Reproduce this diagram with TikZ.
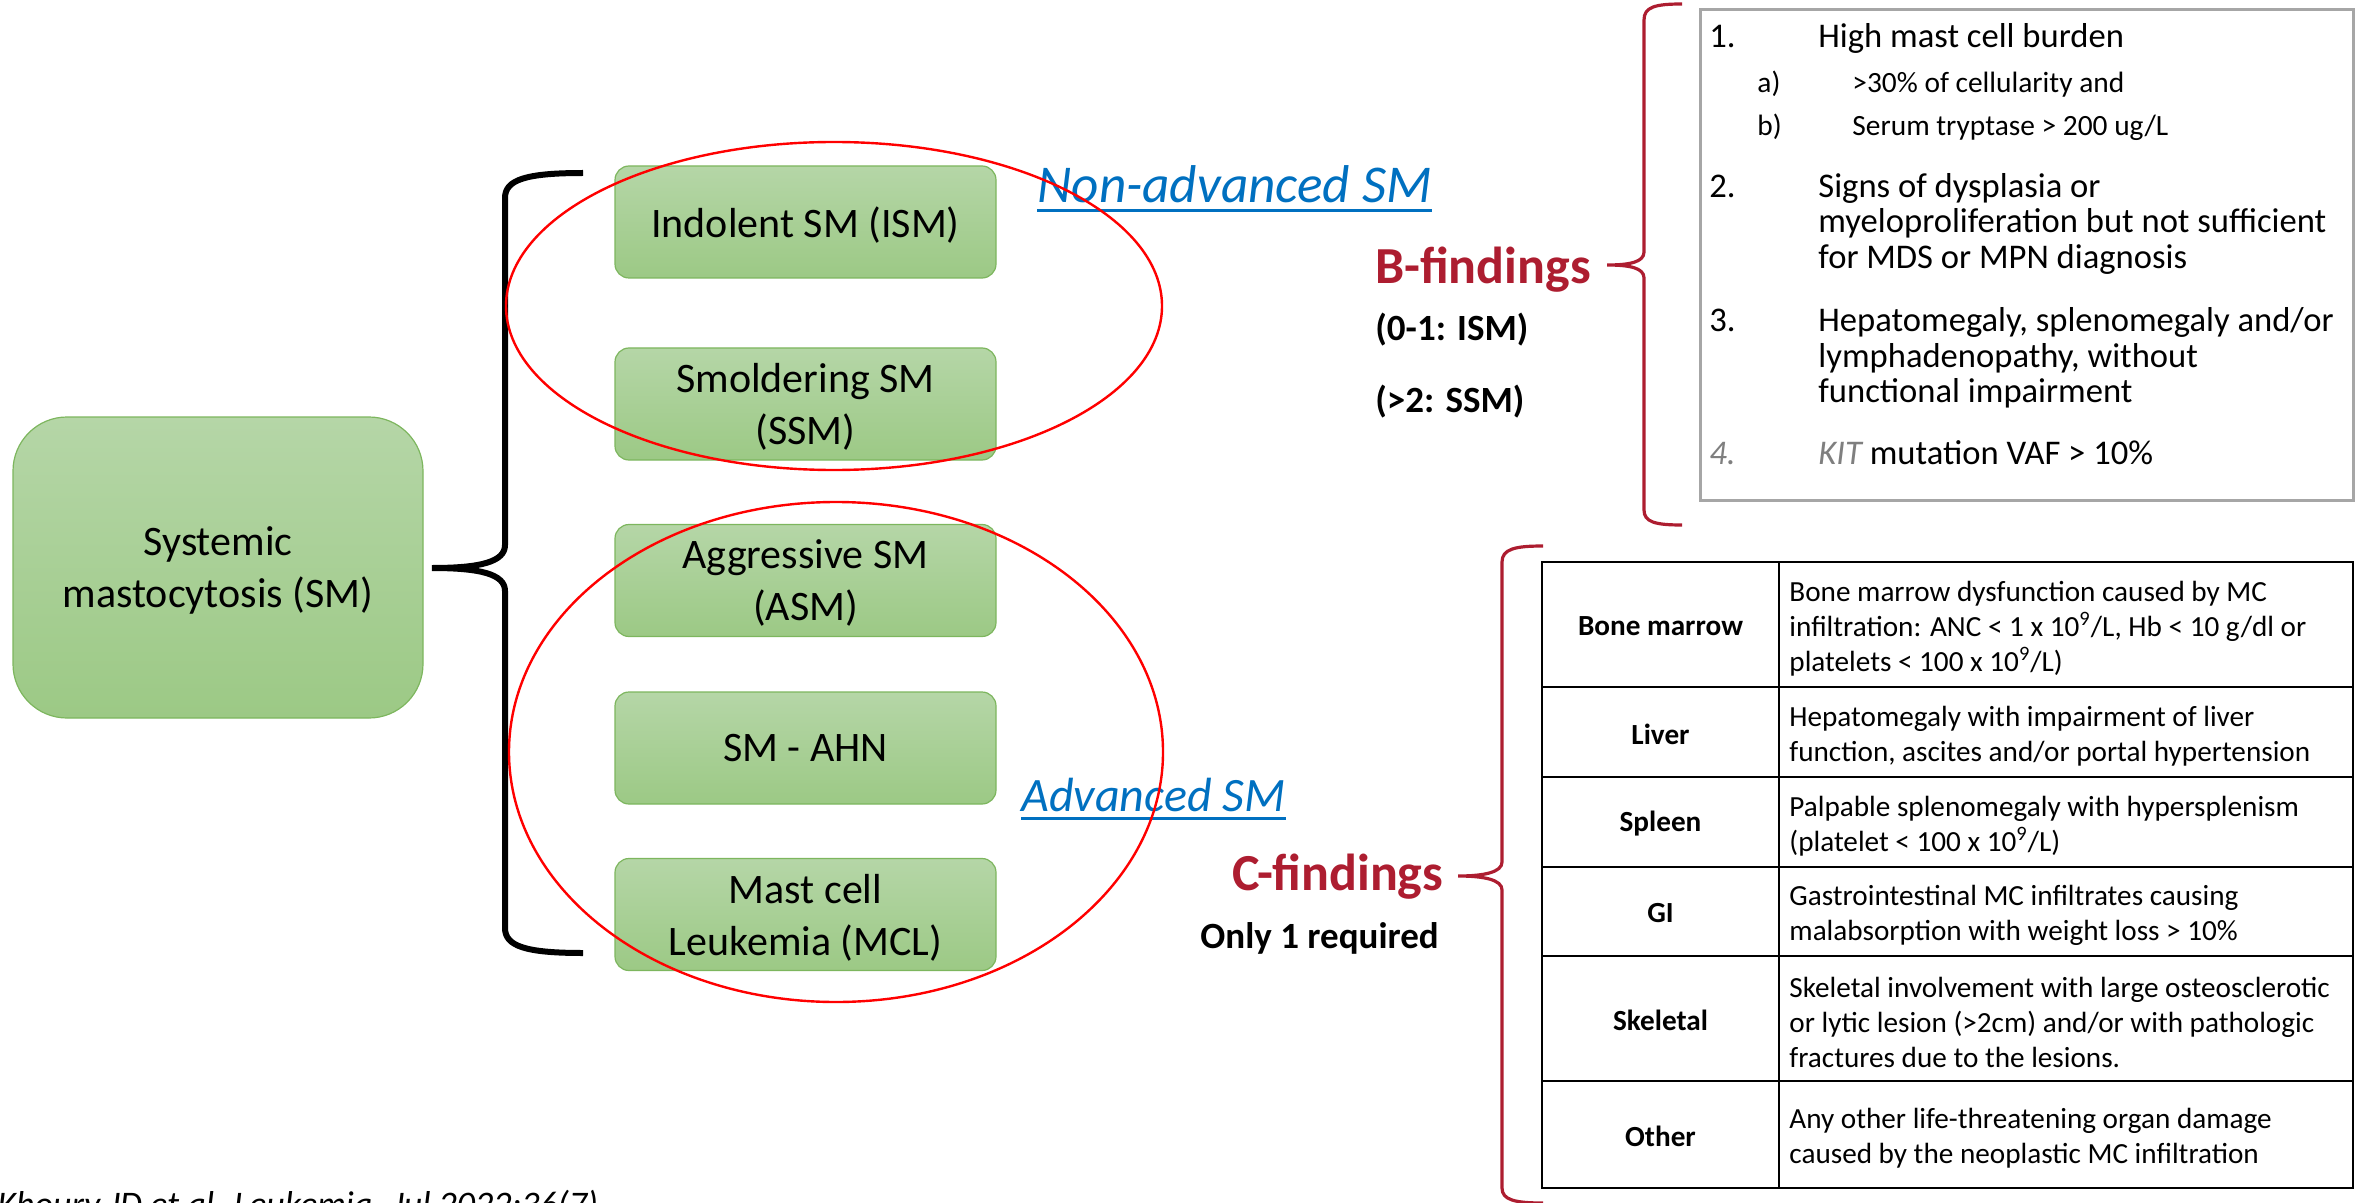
\documentclass[tikz,border=0pt]{standalone}
\usepackage{fontspec}
\setmainfont{Carlito}
\usetikzlibrary{calc}
\definecolor{boxtop}{HTML}{B5D6A7}
\definecolor{boxbot}{HTML}{9CC985}
\definecolor{boxline}{HTML}{7DB65E}
\definecolor{ovalred}{HTML}{FF0000}
\definecolor{linkblue}{HTML}{0070C0}
\definecolor{findred}{HTML}{AD1D30}
\definecolor{framegray}{HTML}{A6A6A6}
\definecolor{numgray}{HTML}{7F7F7F}

\begin{document}
\begin{tikzpicture}[x=0.5pt, y=-0.5pt,
  typebox/.style={draw=boxline, line width=0.6pt, top color=boxtop, bottom color=boxbot,
    rounded corners=7pt, minimum width=190.5pt, minimum height=56pt, align=center,
    inner sep=0pt, text depth=0pt, font=\fontsize{21}{26}\selectfont},
  rootbox/.style={typebox, rounded corners=27pt, minimum width=205pt, minimum height=150.5pt},
  oval/.style={draw=ovalred, line width=1.2pt},
  groupbrace/.style={draw=black, line width=3pt},
  findbrace/.style={draw=findred, line width=1.6pt},
  tag/.style={anchor=base west, inner sep=0pt, text=linkblue, font=\itshape\fontsize{#1}{30}\selectfont},
  tagline/.style={draw=linkblue, line width=1.5pt},
  bigword/.style={anchor=base west, inner sep=0pt, text=findred, font=\bfseries\fontsize{26}{30}\selectfont},
  note/.style={anchor=base west, inner sep=0pt, font=\bfseries\fontsize{18.5}{22}\selectfont},
  bline/.style={anchor=base west, inner sep=0pt, font=\fontsize{17.3}{20}\selectfont},
  bsub/.style={anchor=base west, inner sep=0pt, font=\fontsize{14.7}{18}\selectfont},
  tabline/.style={draw=black, line width=1.3pt},
  rowhead/.style={anchor=center, inner sep=0pt, yshift=-1pt, font=\bfseries\fontsize{14.6}{17.5}\selectfont},
  rowtext/.style={anchor=west, inner sep=0pt, yshift=-2pt, align=left, font=\fontsize{14.6}{17.5}\selectfont},
]
\useasboundingbox (0,0) rectangle (2369,1203);

% classification boxes
\node[rootbox] (sm) at (218,567.5) {Systemic\\mastocytosis (SM)};
\node[typebox] (ism) at (805.5,222) {Indolent SM (ISM)};
\node[typebox] (ssm) at (805.5,404) {Smoldering SM\\(SSM)};
\node[typebox] (asm) at (805.5,580.5) {Aggressive SM\\(ASM)};
\node[typebox] (ahn) at (805.5,748) {SM - AHN};
\node[typebox] (mcl) at (805.5,914.5) {Mast cell\\Leukemia (MCL)};

% brace from the root box to its subtypes
\coordinate (bracetip) at (432,568);
\coordinate (bracetop) at (583,173);
\coordinate (bracebot) at (583,953);
\draw[groupbrace] (bracetop) .. controls (525,173) and (505,180) .. (505,198)
  -- (505,545) .. controls (505,562) and (480,568) .. (bracetip)
  .. controls (480,568) and (505,574) .. (505,591)
  -- (505,928) .. controls (505,946) and (525,953) .. (bracebot);

% group labels
\node[tag=26.6] (nonadv) at (1037,203) {Non-advanced SM};
\draw[tagline] ($(nonadv.base west)+(0,8)$) -- ($(nonadv.base east)+(0,8)$);
\node[tag=24] (adv) at (1021,811) {Advanced SM};
\draw[tagline] ($(adv.base west)+(0,7)$) -- ($(adv.base east)+(0,7)$);

% groupings
\draw[oval] (834,306) ellipse [x radius=164pt, y radius=82pt];
\draw[oval] (836,752) ellipse [x radius=163.5pt, y radius=125pt];

% B-findings
\node[bigword] (bfind) at (1375,284) {B-findings};
\node[note] (bism) at (1375,341) {(0-1: ISM)};
\node[note] (bssm) at (1375,412) {(>2: SSM)};
\coordinate (btip) at (1607,265);
\draw[findbrace] (1682,4) .. controls (1655,4) and (1644,7) .. (1644,20)
  -- (1644,252) .. controls (1644,262) and (1630,265) .. (btip)
  .. controls (1630,265) and (1644,268) .. (1644,278)
  -- (1644,510) .. controls (1644,522) and (1655,525) .. (1682,525);

\draw[draw=framegray, line width=1.5pt] (1700,10) rectangle (2353,500);
\node[bline] (n1) at (1709,47.5) {1.};
\node[bline] (t1) at (1818,47.5) {High mast cell burden};
\node[bsub] (n1a) at (1757,93) {a)};
\node[bsub] (t1a) at (1852,93) {>30\% of cellularity and};
\node[bsub] (n1b) at (1757,136) {b)};
\node[bsub] (t1b) at (1852,136) {Serum tryptase > 200 ug/L};
\node[bline] (n2) at (1709,198) {2.};
\node[bline] (t2a) at (1818,198) {Signs of dysplasia or};
\node[bline] (t2b) at (1818,233) {myeloproliferation but not sufficient};
\node[bline] (t2c) at (1818,269) {for MDS or MPN diagnosis};
\node[bline] (n3) at (1709,332) {3.};
\node[bline] (t3a) at (1818,332) {Hepatomegaly, splenomegaly and/or};
\node[bline] (t3b) at (1818,367) {lymphadenopathy, without};
\node[bline] (t3c) at (1818,402) {functional impairment};
\node[bline, text=numgray, font=\itshape\fontsize{17.3}{20}\selectfont] (n4) at (1709,464) {4.};
\node[bline] (t4) at (1818,464) {\textcolor{numgray}{\itshape KIT} mutation VAF > 10\%};

% C-findings
\node[bigword] (cfind) at (1232,890) {C-findings};
\node[note] (cone) at (1200,948) {Only 1 required};
\coordinate (ctip) at (1458,876);
\draw[findbrace] (1543,546) .. controls (1515,546) and (1502,549) .. (1502,562)
  -- (1502,862) .. controls (1502,872) and (1485,876) .. (ctip)
  .. controls (1485,876) and (1502,880) .. (1502,890)
  -- (1502,1188) .. controls (1502,1200) and (1515,1203) .. (1543,1203);

\draw[tabline] (1542,562) rectangle (2353,1188);
\draw[tabline] (1779,562) -- (1779,1188);
\foreach \ry in {687,777,867,956,1081} \draw[tabline] (1542,\ry) -- (2353,\ry);

\node[rowhead] (hbm) at (1660.5,624.5) {Bone marrow};
\node[rowtext] (dbm) at (1789,624.5) {Bone marrow dysfunction caused by MC\\infiltration: ANC < 1 x 10\textsuperscript{9}/L, Hb < 10 g/dl or\\platelets < 100 x 10\textsuperscript{9}/L)};
\node[rowhead] (hli) at (1660.5,732) {Liver};
\node[rowtext] (dli) at (1789,732) {Hepatomegaly with impairment of liver\\function, ascites and/or portal hypertension};
\node[rowhead] (hsp) at (1660.5,822) {Spleen};
\node[rowtext] (dsp) at (1789,822) {Palpable splenomegaly with hypersplenism\\(platelet < 100 x 10\textsuperscript{9}/L)};
\node[rowhead] (hgi) at (1660.5,911.5) {GI};
\node[rowtext] (dgi) at (1789,911.5) {Gastrointestinal MC infiltrates causing\\malabsorption with weight loss > 10\%};
\node[rowhead] (hsk) at (1660.5,1018.5) {Skeletal};
\node[rowtext] (dsk) at (1789,1018.5) {Skeletal involvement with large osteosclerotic\\or lytic lesion (>2cm) and/or with pathologic\\fractures due to the lesions.};
\node[rowhead] (hot) at (1660.5,1134.5) {Other};
\node[rowtext] (dot) at (1789,1134.5) {Any other life-threatening organ damage\\caused by the neoplastic MC infiltration};

% source line along the lower edge
\node[anchor=base west, inner sep=0pt, font=\itshape\fontsize{18}{22}\selectfont] (cite) at (-3,1216) {Khoury JD et al. Leukemia. Jul 2022;36(7)};
\end{tikzpicture}
\end{document}
